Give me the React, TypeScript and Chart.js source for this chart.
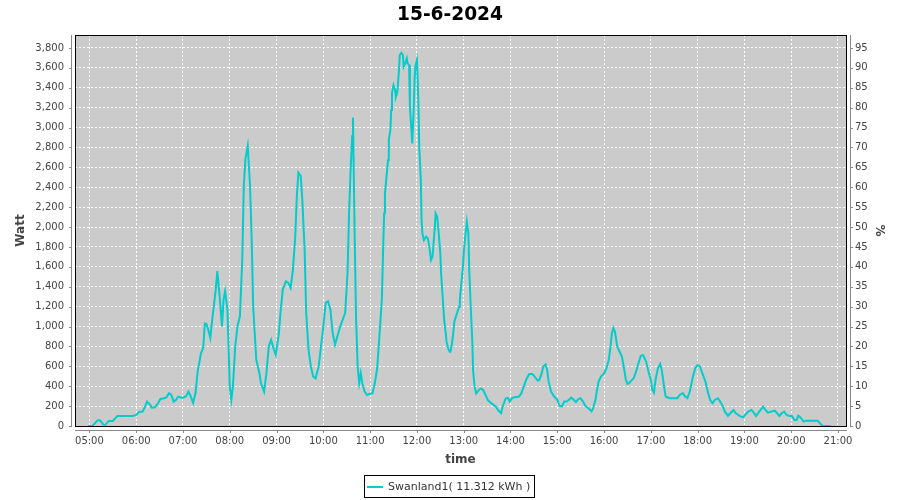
import React, { useEffect, useRef } from 'react';
import { Chart, registerables } from 'chart.js';

Chart.register(...registerables);

const TITLE = '15-6-2024';
const SERIES_LABEL = 'Swanland1( 11.312 kWh )';
const X_TITLE = 'time';
const Y_TITLE = 'Watt';
const Y2_TITLE = '%';

const times = [
  '04:58', '05:04', '05:07', '05:10', '05:13', '05:16', '05:19', '05:22', '05:25', '05:30',
  '05:33', '05:36', '05:43', '05:49', '05:55', '06:00', '06:04', '06:08', '06:11', '06:14',
  '06:17', '06:20', '06:24', '06:28', '06:31', '06:36', '06:39', '06:42', '06:45', '06:48',
  '06:51', '06:54', '06:57', '07:00', '07:04', '07:07', '07:10', '07:13', '07:16', '07:19',
  '07:21', '07:23', '07:25', '07:26', '07:28', '07:30', '07:32', '07:35', '07:38', '07:42',
  '07:44', '07:47', '07:50', '07:52', '07:54', '07:57', '08:00', '08:02', '08:04', '08:07',
  '08:10', '08:13', '08:16', '08:18', '08:20', '08:23', '08:24', '08:26', '08:28', '08:30',
  '08:34', '08:38', '08:40', '08:44', '08:47', '08:50', '08:53', '08:56', '08:59', '09:03',
  '09:05', '09:08', '09:12', '09:15', '09:18', '09:21', '09:24', '09:26', '09:28', '09:31',
  '09:33', '09:36', '09:38', '09:41', '09:44', '09:47', '09:50', '09:54', '09:57', '10:00',
  '10:03', '10:06', '10:09', '10:12', '10:15', '10:18', '10:21', '10:24', '10:28', '10:31',
  '10:33', '10:35', '10:37', '10:38', '10:40', '10:42', '10:44', '10:46', '10:48', '10:50',
  '10:53', '10:56', '11:00', '11:03', '11:06', '11:09', '11:11', '11:13', '11:15', '11:16',
  '11:17', '11:18', '11:19', '11:21', '11:23', '11:24', '11:26', '11:27', '11:28', '11:30',
  '11:32', '11:33', '11:35', '11:37', '11:38', '11:40', '11:42', '11:43', '11:45', '11:47',
  '11:48', '11:50', '11:51', '11:53', '11:54', '11:56', '11:57', '11:58', '12:00', '12:01',
  '12:02', '12:03', '12:05', '12:06', '12:07', '12:09', '12:12', '12:14', '12:16', '12:18',
  '12:20', '12:21', '12:23', '12:24', '12:26', '12:28', '12:30', '12:31', '12:33', '12:35',
  '12:37', '12:38', '12:40', '12:42', '12:43', '12:45', '12:47', '12:48', '12:50', '12:52',
  '12:54', '12:55', '12:57', '12:59', '13:00', '13:02', '13:04', '13:06', '13:07', '13:09',
  '13:11', '13:12', '13:14', '13:16', '13:18', '13:20', '13:22', '13:25', '13:29', '13:31',
  '13:34', '13:36', '13:41', '13:45', '13:48', '13:50', '13:54', '13:57', '13:59', '14:02',
  '14:06', '14:11', '14:14', '14:17', '14:20', '14:24', '14:28', '14:31', '14:35', '14:37',
  '14:40', '14:42', '14:45', '14:47', '14:49', '14:52', '14:56', '15:00', '15:03', '15:06',
  '15:09', '15:12', '15:15', '15:18', '15:21', '15:24', '15:27', '15:30', '15:33', '15:36',
  '15:41', '15:44', '15:46', '15:49', '15:51', '15:53', '15:56', '16:00', '16:03', '16:06',
  '16:08', '16:10', '16:12', '16:14', '16:17', '16:20', '16:23', '16:26', '16:28', '16:30',
  '16:32', '16:35', '16:38', '16:41', '16:44', '16:47', '16:50', '16:54', '16:57', '17:00',
  '17:02', '17:04', '17:06', '17:09', '17:12', '17:14', '17:17', '17:19', '17:24', '17:30',
  '17:34', '17:37', '17:41', '17:44', '17:47', '17:50', '17:54', '17:57', '18:00', '18:03',
  '18:06', '18:10', '18:13', '18:16', '18:19', '18:22', '18:26', '18:29', '18:32', '18:35',
  '18:39', '18:42', '18:46', '18:49', '18:54', '18:58', '19:01', '19:05', '19:09', '19:12',
  '19:15', '19:19', '19:24', '19:27', '19:30', '19:34', '19:39', '19:42', '19:45', '19:48',
  '19:51', '19:54', '19:58', '20:01', '20:04', '20:07', '20:09', '20:12', '20:16', '20:19',
  '20:24', '20:30', '20:34', '20:37', '20:40', '20:45', '20:51',
];

const watts = [
  0, 0, 27, 54, 60, 34, 0, 27, 50, 50,
  77, 101, 101, 101, 101, 111, 144, 144, 188, 245,
  222, 185, 188, 228, 272, 279, 289, 329, 312, 245,
  262, 296, 286, 285, 300, 346, 296, 232, 329, 560,
  640, 730, 766, 793, 1030, 1027, 980, 884, 1102, 1371,
  1556, 1304, 1001, 1270, 1354, 1169, 396, 262, 396, 800,
  1008, 1102, 1673, 2412, 2681, 2816, 2681, 2412, 1908, 1203,
  665, 531, 430, 346, 531, 800, 867, 783, 716, 934,
  1136, 1371, 1455, 1438, 1388, 1572, 1908, 2312, 2547, 2513,
  2278, 1774, 1136, 766, 598, 497, 480, 598, 800, 1001,
  1237, 1253, 1169, 934, 816, 900, 985, 1052, 1136, 1539,
  2144, 2580, 2916, 3100, 2000, 1068, 600, 430, 531, 430,
  346, 312, 325, 328, 429, 580, 800, 1032, 1266, 1568,
  1869, 2137, 2338, 2506, 2673, 2874, 2975, 3176, 3343, 3427,
  3377, 3310, 3360, 3578, 3728, 3752, 3728, 3611, 3645, 3695,
  3645, 3628, 3209, 2975, 2841, 3209, 3477, 3611, 3678, 3477,
  3209, 2807, 2472, 2070, 1936, 1869, 1903, 1886, 1802, 1668,
  1702, 1802, 2003, 2137, 2104, 1936, 1735, 1534, 1300, 1065,
  931, 848, 781, 747, 747, 831, 965, 1049, 1099, 1149,
  1199, 1266, 1434, 1601, 1735, 1903, 2054, 1936, 1601, 1199,
  864, 563, 395, 328, 345, 368, 378, 362, 295, 260,
  240, 225, 197, 150, 130, 197, 280, 280, 246, 280,
  290, 296, 330, 396, 463, 523, 523, 496, 456, 463,
  529, 596, 619, 563, 446, 346, 296, 263, 203, 197,
  246, 246, 263, 286, 263, 240, 270, 280, 246, 203,
  170, 147, 180, 263, 363, 446, 496, 529, 579, 663,
  779, 929, 986, 946, 796, 746, 696, 563, 463, 423,
  430, 456, 480, 546, 629, 703, 713, 646, 546, 463,
  363, 336, 463, 579, 623, 563, 396, 296, 280, 280,
  280, 312, 330, 296, 280, 346, 497, 581, 615, 598,
  531, 447, 346, 262, 228, 262, 279, 245, 202, 144,
  101, 128, 161, 128, 101, 87, 111, 144, 161, 134,
  101, 144, 195, 161, 134, 144, 155, 128, 101, 128,
  144, 111, 101, 101, 60, 60, 104, 87, 44, 54,
  54, 54, 54, 27, 3, 0, 0,
];

const xTickLabels = [
  '05:00', '06:00', '07:00', '08:00', '09:00', '10:00', '11:00', '12:00', '13:00',
  '14:00', '15:00', '16:00', '17:00', '18:00', '19:00', '20:00', '21:00',
];
const wattTicks = [
  0, 200, 400, 600, 800, 1000, 1200, 1400, 1600, 1800, 2000,
  2200, 2400, 2600, 2800, 3000, 3200, 3400, 3600, 3800,
];
const percentTicks = [
  0, 5, 10, 15, 20, 25, 30, 35, 40, 45, 50, 55, 60, 65, 70, 75, 80, 85, 90, 95,
];

const X_START = '04:41.5';
const X_END = '21:10.3';
const WATT_MAX = 3930;
const PEAK_WATT = 4000; // 100 %

const toMin = (s: string) => {
  const [h, m] = s.split(':');
  return parseInt(h, 10) * 60 + parseFloat(m);
};
const fmtTime = (v: number) => {
  const h = Math.floor(v / 60);
  const m = Math.round(v - h * 60);
  return `${String(h).padStart(2, '0')}:${String(m).padStart(2, '0')}`;
};

const FONT = 'DejaVu Sans';
const LINE_COLOR = '#00cccc';
const PLOT_BG = '#cbcbcb';
const AXIS_GRAY = '#888888';
const TEXT_GRAY = '#444444';

const framePlugin = {
  id: 'jfreeFrame',
  beforeDraw(chart: any) {
    const { ctx, chartArea } = chart;
    const { left, top, right, bottom } = chartArea;
    ctx.save();
    ctx.fillStyle = PLOT_BG;
    ctx.fillRect(left, top, right - left, bottom - top);
    ctx.restore();
  },
  afterDraw(chart: any) {
    const { ctx, chartArea, scales } = chart;
    const { left, top, right, bottom } = chartArea;
    ctx.save();
    // plot border
    ctx.strokeStyle = '#000';
    ctx.lineWidth = 1;
    ctx.setLineDash([]);
    ctx.strokeRect(left + 0.5, top + 0.5, right - left, bottom - top);

    // axis lines (offset from the plot)
    ctx.strokeStyle = AXIS_GRAY;
    ctx.beginPath();
    const lx = left - 3.5;
    ctx.moveTo(lx, top);
    ctx.lineTo(lx, bottom + 1);
    for (const t of scales.y.ticks) {
      const py = Math.round(scales.y.getPixelForValue(t.value)) + 0.5;
      ctx.moveTo(lx, py);
      ctx.lineTo(lx - 2.5, py);
    }
    const rx = right + 4.5;
    ctx.moveTo(rx, top);
    ctx.lineTo(rx, bottom + 1);
    for (const t of scales.y1.ticks) {
      const py = Math.round(scales.y1.getPixelForValue(t.value)) + 0.5;
      ctx.moveTo(rx, py);
      ctx.lineTo(rx + 2.5, py);
    }
    const by = bottom + 4.5;
    ctx.moveTo(left, by);
    ctx.lineTo(right + 1, by);
    for (const t of scales.x.ticks) {
      const px = Math.round(scales.x.getPixelForValue(t.value)) + 0.5;
      ctx.moveTo(px, by);
      ctx.lineTo(px, by + 2.5);
    }
    ctx.stroke();

    // legend box
    const label = chart.data.datasets[0].label;
    ctx.font = `11px "${FONT}"`;
    const tw = ctx.measureText(label).width;
    const boxW = 3 + 16 + 5 + tw + 4;
    const boxH = 22;
    const bx = Math.round((left + right) / 2 - boxW / 2 - 11);
    const byy = 475;
    ctx.strokeStyle = '#000';
    ctx.lineWidth = 1;
    ctx.strokeRect(bx + 0.5, byy + 0.5, Math.round(boxW), boxH);
    ctx.strokeStyle = LINE_COLOR;
    ctx.lineWidth = 2;
    ctx.beginPath();
    ctx.moveTo(bx + 3, byy + 12);
    ctx.lineTo(bx + 19, byy + 12);
    ctx.stroke();
    ctx.fillStyle = '#333';
    ctx.textBaseline = 'middle';
    ctx.textAlign = 'left';
    ctx.fillText(label, bx + 24, byy + 12);
    ctx.restore();
  },
};

export default function App() {
  const canvasRef = useRef<HTMLCanvasElement>(null);

  useEffect(() => {
    if (!canvasRef.current) return;
    Chart.defaults.font.family = FONT;
    const points = times.map((t, i) => ({ x: toMin(t), y: watts[i] }));
    const chart = new Chart(canvasRef.current, {
      type: 'line',
      data: {
        datasets: [
          {
            label: SERIES_LABEL,
            data: points,
            borderColor: LINE_COLOR,
            backgroundColor: LINE_COLOR,
            borderWidth: 2,
            pointRadius: 0,
            tension: 0,
            yAxisID: 'y',
          },
        ],
      },
      options: {
        animation: false,
        responsive: false,
        devicePixelRatio: 1,
        parsing: false,
        layout: { padding: 0 },
        plugins: {
          legend: { display: false },
          tooltip: { enabled: false },
          title: {
            display: true,
            text: TITLE,
            color: '#000',
            font: { family: FONT, size: 18.6, weight: 'bold', lineHeight: 1.2 },
            padding: { top: 3.6, bottom: 9.08 },
          },
        },
        scales: {
          x: {
            type: 'linear',
            min: toMin(X_START),
            max: toMin(X_END),
            afterBuildTicks: (s: any) => {
              s.ticks = xTickLabels.map((l) => ({ value: toMin(l) }));
            },
            afterFit: (s: any) => {
              s.height = 74;
            },
            ticks: {
              autoSkip: false,
              maxRotation: 0,
              padding: 9,
              color: TEXT_GRAY,
              font: { family: FONT, size: 10 },
              callback: (v: any) => fmtTime(Number(v)),
            },
            grid: { color: '#ffffff', lineWidth: 1, drawTicks: false },
            border: { display: false, dash: [2, 2] },
            title: {
              display: true,
              text: X_TITLE,
              color: TEXT_GRAY,
              font: { family: FONT, size: 12, weight: 'bold', lineHeight: 1.2 },
              padding: { top: 0, bottom: 32.8 },
            },
          },
          y: {
            type: 'linear',
            position: 'left',
            min: 0,
            max: WATT_MAX,
            afterBuildTicks: (s: any) => {
              s.ticks = wattTicks.map((v) => ({ value: v }));
            },
            afterFit: (s: any) => {
              s.width = 75;
            },
            ticks: {
              padding: 11,
              color: TEXT_GRAY,
              font: { family: FONT, size: 10 },
              callback: (v: any) => Number(v).toLocaleString('en-US'),
            },
            grid: { color: '#ffffff', lineWidth: 1, drawTicks: false },
            border: { display: false, dash: [2, 2] },
            title: {
              display: true,
              text: Y_TITLE,
              color: TEXT_GRAY,
              font: { family: FONT, size: 12, weight: 'bold', lineHeight: 1.2 },
              padding: { top: 13.5, bottom: 0 },
            },
          },
          y1: {
            type: 'linear',
            position: 'right',
            min: 0,
            max: (WATT_MAX / PEAK_WATT) * 100,
            afterBuildTicks: (s: any) => {
              s.ticks = percentTicks.map((v) => ({ value: v }));
            },
            afterFit: (s: any) => {
              s.width = 54;
            },
            ticks: {
              padding: 9,
              color: TEXT_GRAY,
              font: { family: FONT, size: 10 },
              callback: (v: any) => String(v),
            },
            grid: { drawOnChartArea: false, drawTicks: false },
            border: { display: false },
            title: {
              display: true,
              text: Y2_TITLE,
              color: TEXT_GRAY,
              font: { family: FONT, size: 12, weight: 'bold', lineHeight: 1.2 },
              padding: { top: 13.8, bottom: 0 },
            },
          },
        },
      },
      plugins: [framePlugin],
    } as any);
    return () => chart.destroy();
  }, []);

  return (
    <div style={{ position: 'absolute', left: 0, top: 0, width: 900, height: 500, background: '#fff' }}>
      <canvas ref={canvasRef} width={900} height={500} style={{ display: 'block' }} />
    </div>
  );
}
